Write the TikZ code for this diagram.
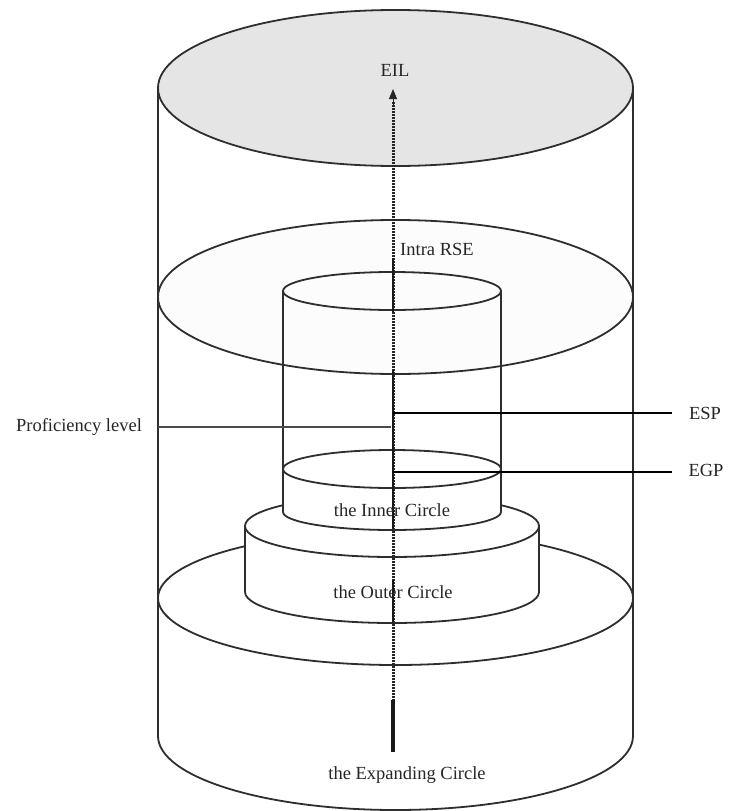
\documentclass[tikz,border=0pt]{standalone}
\usepackage{fontspec}
\setmainfont{Liberation Serif}
\usetikzlibrary{arrows.meta}
\tikzset{
  outl/.style={draw=black!82, line width=1.8pt},
  lbl/.style={font=\fontsize{18.5}{21}\selectfont, text=black!85, inner sep=0pt},
  tagline/.style={draw=black, line width=2.8pt},
  profline/.style={draw=black!70, line width=1.8pt},
  axisdot/.style={draw=black!85, line width=3pt, dash pattern=on 1.6pt off 1.4pt},
  axissolid/.style={draw=black!90, line width=2.2pt}
}
\begin{document}
\begin{tikzpicture}[x=1pt,y=-1pt]
\useasboundingbox[fill=white] (0,0) rectangle (730,811);
% outer cylinder bottom arc
\draw[outl] (158,736) arc[start angle=180,end angle=360,x radius=237.5pt,y radius=74pt];
% top ellipse (EIL)
\draw[outl, fill=black!10] (395.5,88) ellipse[x radius=237.5pt, y radius=78pt];
% middle ellipse (Intra RSE plane)
\draw[outl, fill=black!1] (395.5,297) ellipse[x radius=237.5pt, y radius=77pt];
% expanding circle ellipse
\draw[outl, fill=white] (395.5,598) ellipse[x radius=237.5pt, y radius=67pt];
% outer circle disc
\path[fill=white] (245,526) arc[start angle=180,end angle=0,x radius=147pt,y radius=31pt]
  -- (539,592) arc[start angle=0,end angle=-180,x radius=147pt,y radius=31pt] -- cycle;
\draw[outl] (392,526) ellipse[x radius=147pt, y radius=31pt];
\draw[outl] (245,526) -- (245,592);
\draw[outl] (539,526) -- (539,592);
\draw[outl] (245,592) arc[start angle=180,end angle=360,x radius=147pt,y radius=31pt];
% inner circle section
\path[fill=white] (283,469) arc[start angle=180,end angle=0,x radius=109pt,y radius=19pt]
  -- (501,512) arc[start angle=0,end angle=-180,x radius=109pt,y radius=18pt] -- cycle;
\draw[outl] (392,469) ellipse[x radius=109pt, y radius=19pt];
\draw[outl] (283,512) arc[start angle=180,end angle=360,x radius=109pt,y radius=18pt];
% inner cylinder
\draw[outl] (392,291) ellipse[x radius=109pt, y radius=19pt];
\draw[outl] (283,291) -- (283,512);
\draw[outl] (501,291) -- (501,512);
% outer cylinder sides
\draw[outl] (158,88) -- (158,736);
\draw[outl] (633,88) -- (633,736);
% central axis
\coordinate (axbot) at (393,752);
\coordinate (axtop) at (393,89);
\draw[axisdot] (axbot) -- (393,102);
\draw[black!85, line width=1pt, -{Triangle[length=10pt,width=8pt]}] (393,106) -- (axtop);
\draw[axissolid, line width=2.8pt] (393,258) -- (393,312);
\draw[axissolid] (393,370) -- (393,528);
\draw[axissolid] (393,580) -- (393,622);
\draw[axissolid, line width=3.2pt] (393,700) -- (axbot);
% labels
\node[lbl] (eil) at (395,70) {EIL};
\node[lbl, anchor=west] (intra) at (400,249) {Intra RSE};
\node[lbl] (prof) at (79,427) {Proficiency level};
\node[lbl] (esp) at (705,413) {ESP};
\node[lbl] (egp) at (706,470) {EGP};
\node[lbl] (inner) at (392,510) {the Inner Circle};
\node[lbl] (outer) at (393,592) {the Outer Circle};
\node[lbl] (expand) at (407,775) {the Expanding Circle};
% pointer lines
\coordinate (profend) at (391,427);
\coordinate (espstart) at (393,413);
\coordinate (espend) at (672,413);
\coordinate (egpstart) at (393,472);
\coordinate (egpend) at (672,472);
\draw[profline] (158,427) -- (profend);
\draw[tagline] (espstart) -- (espend);
\draw[tagline] (egpstart) -- (egpend);
\end{tikzpicture}
\end{document}
